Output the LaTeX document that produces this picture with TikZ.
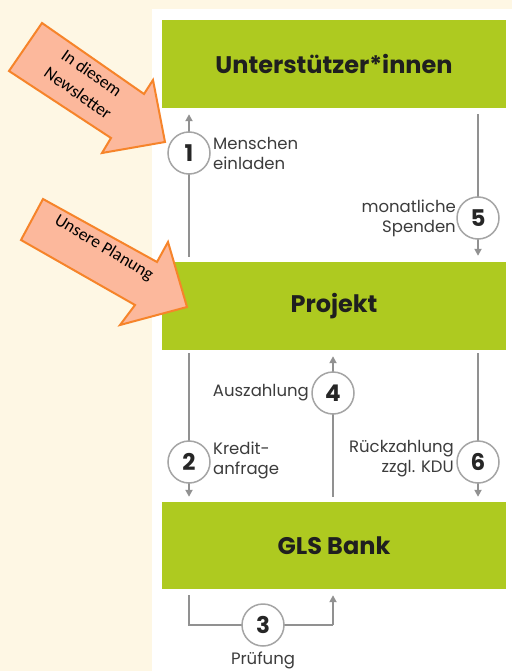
\documentclass[tikz,border=0pt]{standalone}
\usepackage{fontspec}
\setmainfont{Poppins}
\newfontfamily\calfont{Carlito}
\usetikzlibrary{arrows.meta}
\definecolor{cream}{RGB}{254,247,228}
\definecolor{glsgreen}{RGB}{174,202,32}
\definecolor{flowgray}{RGB}{145,145,145}
\definecolor{ringgray}{RGB}{165,165,165}
\definecolor{labelgray}{RGB}{60,60,60}
\definecolor{salmon}{RGB}{252,184,156}
\definecolor{orangeline}{RGB}{246,132,42}
\begin{document}
\begin{tikzpicture}[x=1pt,y=-1pt,
  greenbox/.style={fill=glsgreen, draw=none, minimum width=344pt, minimum height=88pt, inner sep=0pt,
    font=\fontsize{24}{28}\selectfont\bfseries, text=black!88},
  numring/.style={circle, draw=ringgray, line width=1.5pt, fill=white, minimum size=42pt, inner sep=0pt,
    font=\fontsize{23}{23}\selectfont\bfseries, text=black!85},
  lbl/.style={inner sep=0pt, font=\fontsize{16.5}{20}\selectfont, text=labelgray},
  flow/.style={draw=flowgray, line width=1.8pt, -{Triangle[length=7pt,width=7pt]}},
  flowline/.style={draw=flowgray, line width=1.8pt},
  hint/.style={fill=salmon, draw=orangeline, line width=2pt, line join=miter},
  hinttext/.style={font=\calfont\fontsize{17.5}{24}\selectfont, text=black, align=center, inner sep=0pt}
]
% background
\fill[cream] (0,0) rectangle (512,671);
\fill[white] (152,9) rectangle (512,671);

% boxes
\node[greenbox] (unter) at (334,64) {Unterstützer*innen};
\node[greenbox] (proj) at (334,306) {Projekt};
\node[greenbox, minimum height=87pt] (gls) at (334,545.5) {GLS Bank};

% circle positions
\coordinate (p1) at (189,153);
\coordinate (p5) at (478,218);
\coordinate (p2) at (189,462);
\coordinate (p4) at (333,393);
\coordinate (p6) at (478,462);
\coordinate (p3) at (263,625);
\coordinate (k3a) at (189,625);
\coordinate (k3b) at (333,625);

% connectors
\draw[flow, shorten <=5pt, shorten >=6pt] (proj.north -| p1) -- (unter.south -| p1);
\draw[flow, shorten <=6pt, shorten >=6pt] (unter.south -| p5) -- (proj.north -| p5);
\draw[flow, shorten <=3pt, shorten >=5pt] (proj.south -| p2) -- (gls.north -| p2);
\draw[flow, shorten <=5pt, shorten >=6pt] (gls.north -| p4) -- (proj.south -| p4);
\draw[flow, shorten <=3pt, shorten >=5pt] (proj.south -| p6) -- (gls.north -| p6);
\draw[flowline, shorten <=6pt] (gls.south -| k3a) -- (k3a) -- (k3b);
\draw[flow, shorten >=6pt] (k3b) -- (gls.south -| k3b);

% number rings
\node[numring] (n1) at (p1) {1};
\node[numring] (n5) at (p5) {5};
\node[numring] (n2) at (p2) {2};
\node[numring] (n4) at (p4) {4};
\node[numring] (n6) at (p6) {6};
\node[numring] (n3) at (p3) {3};

% labels
\node[lbl, anchor=west, align=left] (l1) at (213,153) {Menschen\\einladen};
\node[lbl, anchor=east, align=right] (l5) at (456,218) {monatliche\\Spenden};
\node[lbl, anchor=west, align=left] (l2) at (213,460) {Kredit-\\anfrage};
\node[lbl, anchor=east] (l4) at (309,393) {Auszahlung};
\node[lbl, anchor=east, align=right] (l6) at (454,459) {Rückzahlung\\zzgl. KDU};
\node[lbl] (l3) at (263,660) {Prüfung};

% hint arrows
\draw[hint] (42,23) -- (144,94) -- (153,80) -- (165,142) -- (102,153) -- (111,138) -- (9,71) -- cycle;
\node[hinttext, rotate=-35] (h1) at (85,83) {In diesem\\Newsletter};
\draw[hint] (43,199) -- (157,262) -- (168,242) -- (187,307) -- (120,325) -- (135,305) -- (21,240) -- cycle;
\node[hinttext, rotate=-31] (h2) at (104,248) {Unsere Planung};
\end{tikzpicture}
\end{document}
